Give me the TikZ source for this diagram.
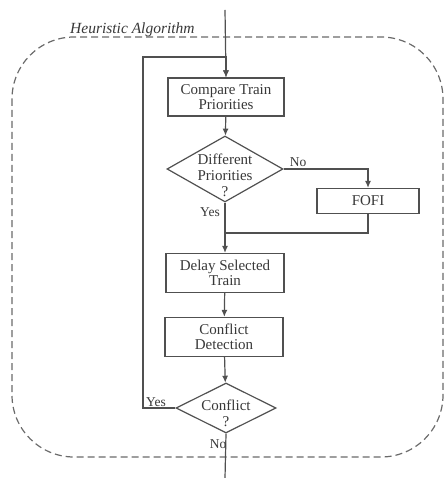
\documentclass[tikz,border=0pt]{standalone}
\usepackage{fontspec}
\setmainfont{Liberation Serif}
\usetikzlibrary{shapes.geometric,arrows.meta}

\definecolor{linegray}{HTML}{505050}
\definecolor{textgray}{HTML}{383838}
\definecolor{framegray}{HTML}{6A6A6A}

\tikzset{
  process/.style={draw=linegray, line width=1.2pt, rectangle, align=center,
    text=textgray, font=\fontsize{15}{15.5}\selectfont, inner sep=0pt},
  decision/.style={draw=linegray, line width=1.2pt, diamond, inner sep=0pt},
  dtext/.style={align=center, text=textgray, font=\fontsize{15}{16}\selectfont, inner sep=0pt},
  flow/.style={draw=linegray, line width=1.2pt},
  arrow/.style={flow, -{Latex[length=7,width=6]}},
  tag/.style={text=textgray, font=\fontsize{13.5}{14}\selectfont, inner sep=0pt},
  frame/.style={draw=framegray, line width=1.2pt, dash pattern=on 7pt off 4pt}
}

\begin{document}
\begin{tikzpicture}[x=1pt,y=-1pt]
    \useasboundingbox (0,0) rectangle (444,478);

    % Frame
    \draw[frame, rounded corners=62] (12,37) rectangle (443,457);
    \node[anchor=base west, text=textgray, font=\fontsize{15.5}{16}\selectfont\itshape, inner sep=0pt]
      (title) at (70,34) {Heuristic Algorithm};

    % Vertices
    \coordinate (start) at (225,10);
    \coordinate (loop) at (143,57);
    \node[process, minimum width=116, minimum height=38] (compare) at (226,97) {Compare Train\\Priorities};
    \node[decision, minimum width=116, minimum height=66] (diff) at (225,169) {};
    \node[dtext] (difftext) at (225,175) {Different\\Priorities\\?};
    \node[process, minimum width=102, minimum height=25] (fofi) at (368,201) {FOFI};
    \coordinate (merge) at (225,233);
    \node[process, minimum width=118, minimum height=39] (delay) at (225,273) {Delay Selected\\Train};
    \node[process, minimum width=118, minimum height=39] (detect) at (224,337) {Conflict\\Detection};
    \node[decision, minimum width=100, minimum height=50] (conf) at (226,408) {};
    \node[dtext] (conftext) at (226,413) {Conflict\\?};
    \coordinate (stop) at (225,478);

    % Edges
    \draw[arrow] (start) -- (compare.north);
    \draw[arrow] (conf.west) -| (loop) -| (compare.north);
    \draw[arrow] (compare) -- (diff);
    \draw[arrow] (diff.east) -| (fofi.north);
    \draw[arrow] (diff.south) -- (delay.north);
    \draw[flow] (fofi.south) |- (merge);
    \draw[arrow] (delay) -- (detect);
    \draw[arrow] (detect) -- (conf);
    \draw[flow] (conf.south) -- (stop);

    % Labels
    \node[tag] (nodiff) at (298,162) {No};
    \node[tag] (yesdiff) at (210,212) {Yes};
    \node[tag] (yesconf) at (156,402) {Yes};
    \node[tag] (noconf) at (218,444) {No};
\end{tikzpicture}
\end{document}
